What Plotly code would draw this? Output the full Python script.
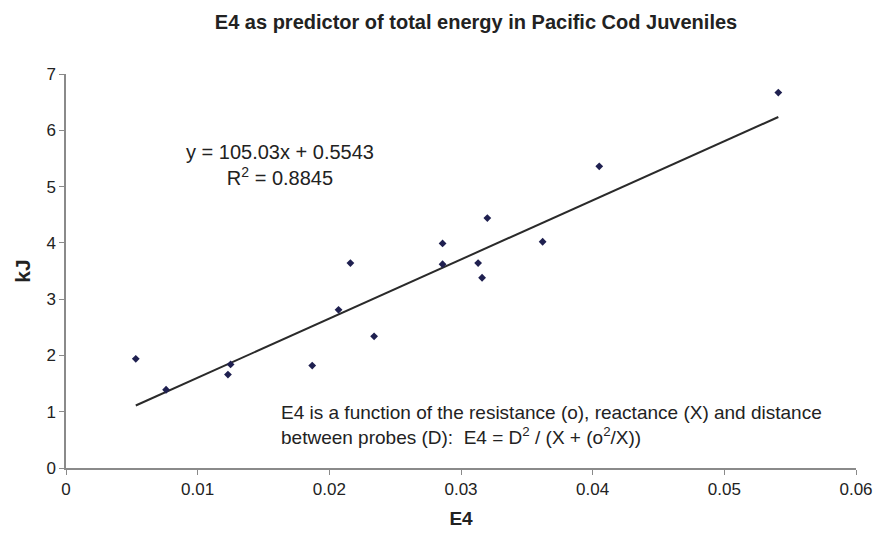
import plotly.graph_objects as go

# Data
e4_values = [0.0053, 0.0076, 0.0125, 0.0123, 0.0187, 0.0207, 0.0216, 0.0234,
             0.0286, 0.0286, 0.0320, 0.0313, 0.0316, 0.0362, 0.0405, 0.0541]
kj_values = [1.94, 1.39, 1.84, 1.66, 1.82, 2.81, 3.64, 2.34,
             3.99, 3.62, 4.44, 3.64, 3.38, 4.02, 5.36, 6.67]

TREND_SLOPE = 105.03
TREND_INTERCEPT = 0.5543
R_SQUARED = 0.8845

x_tick_vals = [0, 0.01, 0.02, 0.03, 0.04, 0.05, 0.06]
x_tick_text = ["0", "0.01", "0.02", "0.03", "0.04", "0.05", "0.06"]
y_tick_vals = [0, 1, 2, 3, 4, 5, 6, 7]

FONT = "Liberation Sans, Arial, sans-serif"
TXT = "#222222"
AXIS = "#8a8a8a"

L, R, T, B = 66, 868, 74, 479

x_line = [min(e4_values), max(e4_values)]
y_line = [TREND_SLOPE * v + TREND_INTERCEPT for v in x_line]

fig = go.Figure()
fig.add_trace(go.Scatter(x=x_line, y=y_line, mode="lines",
                         line=dict(color="#2a2a2a", width=2), showlegend=False,
                         hoverinfo="skip"))
fig.add_trace(go.Scatter(x=e4_values, y=kj_values, mode="markers",
                         marker=dict(symbol="diamond", size=6, color="#1f2050"),
                         showlegend=False))

fig.update_layout(
    width=885, height=538,
    margin=dict(l=L, r=885 - R, t=T, b=538 - B),
    paper_bgcolor="white", plot_bgcolor="white",
    font=dict(family=FONT, color=TXT, size=17),
    title=dict(text="<b>E4 as predictor of total energy in Pacific Cod Juveniles</b>",
               x=476 / 885, xanchor="center", y=1 - 22 / 538, yanchor="middle",
               font=dict(size=20, color=TXT, family=FONT)),
    xaxis=dict(range=[0, 0.06], tickvals=x_tick_vals, ticktext=x_tick_text,
               showgrid=False, zeroline=False, showline=True, linecolor=AXIS,
               linewidth=1.5, ticks="outside", ticklen=5, tickcolor=AXIS,
               tickfont=dict(size=17, color=TXT),
               title=dict(text="<b>E4</b>", font=dict(size=19, color=TXT), standoff=14)),
    yaxis=dict(range=[0, 7], tickvals=y_tick_vals,
               showgrid=False, zeroline=False, showline=True, linecolor=AXIS,
               linewidth=1.5, ticks="outside", ticklen=5, tickcolor=AXIS,
               tickfont=dict(size=17, color=TXT),
               title=dict(text="<b>kJ</b>", font=dict(size=21, color=TXT), standoff=10)),
)

fig.add_annotation(
    x=(283 - L) / (R - L), y=(B - 168) / (B - T), xref="paper", yref="paper",
    showarrow=False, xanchor="center", yanchor="middle", align="center",
    text="y = %.2fx + %.4f<br>R<sup>2</sup> = %.4f" % (TREND_SLOPE, TREND_INTERCEPT, R_SQUARED),
    font=dict(size=20, color=TXT))

fig.add_annotation(
    x=(282 - L) / (R - L), y=(B - 435) / (B - T), xref="paper", yref="paper",
    showarrow=False, xanchor="left", yanchor="middle", align="left",
    text="E4 is a function of the resistance (o), reactance (X) and distance<br>"
         "between probes (D):  E4 = D<sup>2</sup> / (X + (o<sup>2</sup>/X))",
    font=dict(size=19, color=TXT))

fig.write_html("out.html")
